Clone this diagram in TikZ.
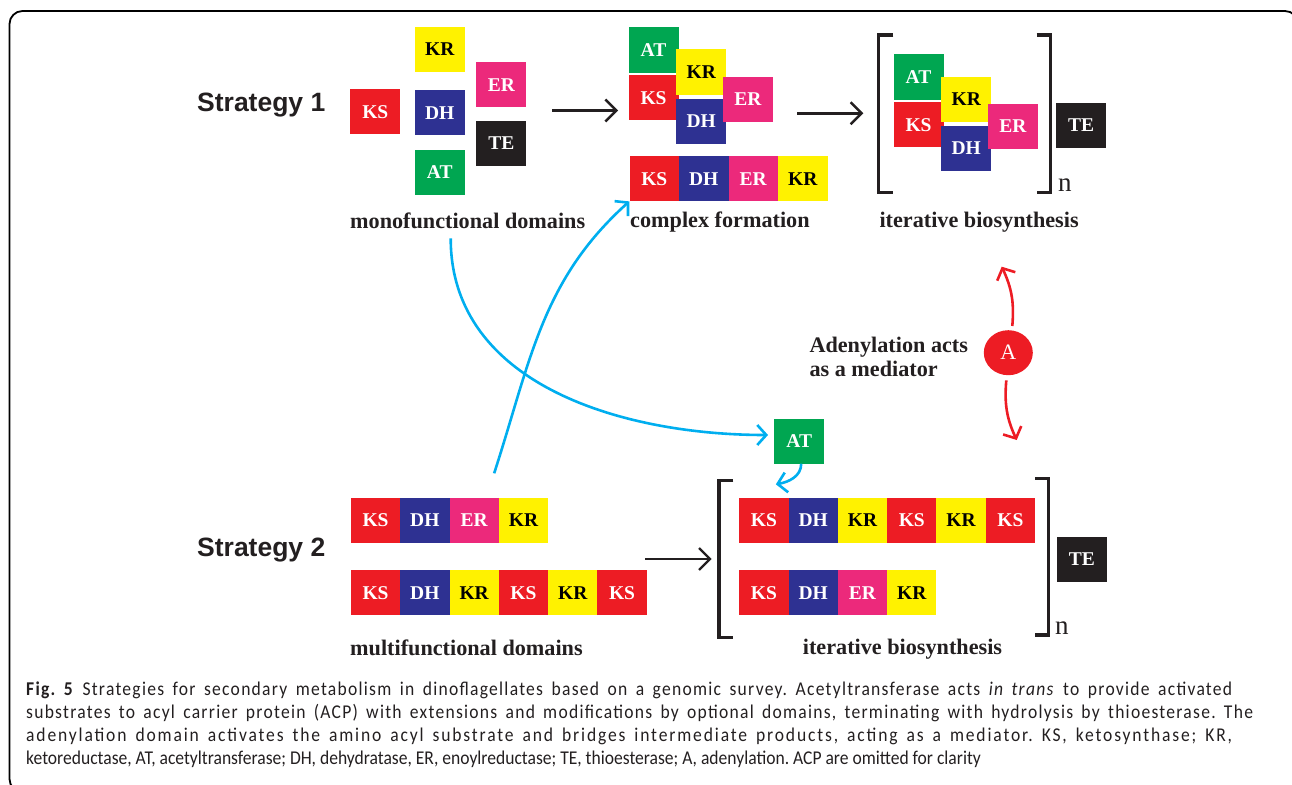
\documentclass[tikz,border=0pt]{standalone}
\usepackage{fontspec}
\setmainfont{Liberation Serif}
\newfontfamily\headfont{Liberation Sans}
\newfontfamily\capfont[FakeStretch=0.9]{Carlito}
\usetikzlibrary{arrows.meta,shapes.geometric}

\definecolor{ksred}{HTML}{ED1C24}
\definecolor{dhblue}{HTML}{2E3192}
\definecolor{erpink}{HTML}{EC297B}
\definecolor{kryellow}{HTML}{FFF200}
\definecolor{atgreen}{HTML}{00A651}
\definecolor{inkgray}{HTML}{231F20}
\definecolor{transblue}{HTML}{00AEEF}

\begin{document}
\begin{tikzpicture}[x=1pt, y=-1pt,
  dom/.style={minimum width=50pt, minimum height=45pt, inner sep=0pt, text=white,
              font=\fontsize{19.5}{19.5}\selectfont\bfseries},
  dKS/.style={dom, fill=ksred}, dDH/.style={dom, fill=dhblue}, dER/.style={dom, fill=erpink},
  dKR/.style={dom, fill=kryellow, text=black}, dAT/.style={dom, fill=atgreen}, dTE/.style={dom, fill=inkgray},
  lab/.style={anchor=base west, inner sep=0pt, text=inkgray, font=\fontsize{22.2}{24.5}\selectfont\bfseries},
  strat/.style={anchor=base west, inner sep=0pt, text=inkgray, font=\headfont\fontsize{26.5}{26.5}\selectfont\bfseries},
  mainarr/.style={line width=2.4pt, inkgray, -{Straight Barb[length=11pt,width=22pt]}},
  transarr/.style={line width=2.6pt, transblue, -{Straight Barb[length=9pt,width=20pt]}},
  adarr/.style={line width=2.6pt, ksred, -{Straight Barb[length=9pt,width=20pt]}},
  brak/.style={line width=3.2pt, inkgray}]
  \useasboundingbox (0,0) rectangle (1292,784);
  \begin{scope}
    \clip (0,0) rectangle (1292,784);
    \draw[line width=1.8pt, rounded corners=13pt] (9.5,11) rectangle (1298,792);
  \end{scope}

  % strategy 1: loose domains, then the complex, then the loop
  \node[strat] (s1) at (197,111.7) {Strategy 1};
  \foreach \t/\x/\y in {KS/375.3/111.9, KR/439.7/49.2, DH/439.7/112.9, AT/439.7/172.5, ER/501.3/84.8, TE/501.3/143.5}{
    \node[d\t] (mono-\t) at (\x,\y) {\t}; }
  \foreach \c/\ox/\oy in {cx/628.3/27.3, it/893.3/54.3}{
    \foreach \t/\dx/\dy in {AT/0/0, KS/0/47.7, KR/47.7/22, DH/47.7/71, ER/94.4/49.4}{
      \node[d\t, anchor=north west] (\c-\t) at ({\ox+\dx},{\oy+\dy}) {\t}; } }
  \foreach \t [count=\i from 0] in {KS,DH,ER,KR}{
    \node[d\t, minimum width=49.5pt, anchor=north west] (cr\i) at ({629.3+49.5*\i},156) {\t}; }
  \node[dTE, anchor=north west] (it-TE) at (1056,102.7) {TE};
  \node[lab] (mono) at (350,228) {monofunctional domains};
  \node[lab] (cplx) at (630,227) {complex formation};
  \node[lab] (itlab1) at (879.3,227) {iterative biosynthesis};
  \draw[brak] (893.3,35) -- (878.3,35) -- (878.3,192.7) -- (893.3,192.7);
  \draw[brak] (1036.7,35) -- (1050.7,35) -- (1050.7,192.7) -- (1036.7,192.7);
  \node[anchor=base west, inner sep=0pt, text=inkgray, font=\fontsize{27}{27}\selectfont] (n1) at (1058,191.7) {n};
  \coordinate (a1s) at (552,110.5);  \coordinate (a1e) at (618,110.5);
  \coordinate (a2s) at (797.3,113.3); \coordinate (a2e) at (863.3,113.3);
  \draw[mainarr] (a1s) -- (a1e);
  \draw[mainarr] (a2s) -- (a2e);

  % strategy 2: multifunctional rows
  \node[strat] (s2) at (197,556.7) {Strategy 2};
  \foreach \r/\x/\y/\list in {sa/350.7/497.3/{KS,DH,ER,KR}, sb/350.7/570/{KS,DH,KR,KS,KR,KS},
                             ba/739/497.3/{KS,DH,KR,KS,KR,KS}, bb/739/570/{KS,DH,ER,KR}}{
    \foreach \t [count=\i from 0] in \list{
      \node[d\t, minimum width=49.3pt, anchor=north west] (\r\i) at ({\x+49.3*\i},\y) {\t}; } }
  \node[dTE, anchor=north west] (bi-TE) at (1056.7,536.7) {TE};
  \node[dAT, anchor=north west] (trans-AT) at (774,418.3) {AT};
  \node[lab] (multi) at (350,655) {multifunctional domains};
  \node[lab] (itlab2) at (802.7,654.3) {iterative biosynthesis};
  \draw[brak] (733.3,480.7) -- (719,480.7) -- (719,637.3) -- (733.3,637.3);
  \draw[brak] (1035,478.3) -- (1048.3,478.3) -- (1048.3,635) -- (1035,635);
  \node[anchor=base west, inner sep=0pt, text=inkgray, font=\fontsize{27}{27}\selectfont] (n2) at (1055,634) {n};
  \coordinate (a3s) at (645,559); \coordinate (a3e) at (711.7,559);
  \draw[mainarr] (a3s) -- (a3e);

  % AT in trans
  \draw[transarr] ([shift={(-17,10)}]mono.south) to[out=-90,in=180] ([shift={(-6,-6)}]trans-AT.west);
  \draw[transarr] ([shift={(20,-24)}]sa2.north) to[out=72,in=222] (cr0.south west);
  \draw[transarr] ([xshift=2pt]trans-AT.south) to[out=-90,in=10] ([shift={(12,-13)}]ba0.north);

  % adenylation
  \node[lab, anchor=north west, align=left] (med) at (809.3,336.5) {Adenylation acts\\as a mediator};
  \node[ellipse, fill=ksred, minimum width=49pt, minimum height=45pt, inner sep=0pt, text=white,
        font=\fontsize{22}{22}\selectfont] (ad) at (1008.3,352.7) {A};
  \coordinate (adup) at (1001.7,266.7); \coordinate (addn) at (1016.7,440);
  \draw[adarr] ([shift={(4,-4)}]ad.north) to[bend right=15] (adup);
  \draw[adarr] ([shift={(-2,5)}]ad.south) to[bend right=15] (addn);

  \node[anchor=north west, inner sep=0pt, align=left, text=inkgray, font=\capfont\fontsize{19.5}{23.2}\selectfont\frenchspacing] (cap) at (26,681.5)
    {\makebox[1206pt][s]{\addfontfeatures{LetterSpace=6.5}\textbf{Fig. 5} Strategies for secondary metabolism in dinoflagellates based on a genomic survey. Acetyltransferase acts \textit{in trans} to provide activated}\\
     \makebox[1227pt][s]{\addfontfeatures{LetterSpace=6.5}substrates to acyl carrier protein (ACP) with extensions and modifications by optional domains, terminating with hydrolysis by thioesterase. The}\\
     \makebox[1206pt][s]{\addfontfeatures{LetterSpace=9.5}adenylation domain activates the amino acyl substrate and bridges intermediate products, acting as a mediator. KS, ketosynthase; KR,}\\
     ketoreductase, AT, acetyltransferase; DH, dehydratase, ER, enoylreductase; TE, thioesterase; A, adenylation. ACP are omitted for clarity};
\end{tikzpicture}
\end{document}
